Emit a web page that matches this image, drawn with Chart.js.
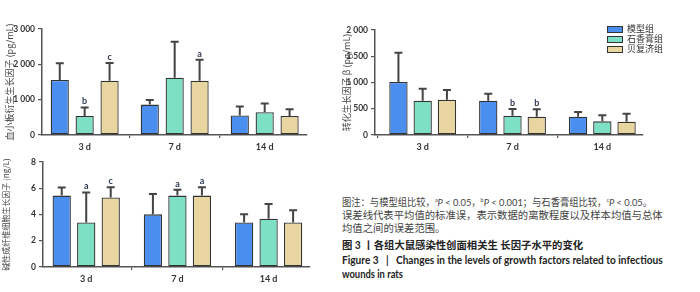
<!DOCTYPE html>
<html><head><meta charset="utf-8">
<script src="https://cdn.jsdelivr.net/npm/chart.js@4.4.1/dist/chart.umd.min.js"></script>
<style>
html,body{margin:0;padding:0;background:#fff;}
#wrap{position:relative;width:700px;height:292px;overflow:hidden;background:#fff;}
canvas{position:absolute;}
#leg{position:absolute;left:607px;top:24px;font-family:"Noto Sans CJK SC";font-size:9px;color:#333;}
.lr{height:10px;line-height:10px;display:flex;align-items:center;white-space:nowrap;}
.lb{width:14px;height:5px;border:1px solid #333;margin-right:4px;}
.cap{position:absolute;left:342px;white-space:nowrap;font-family:"Lato","Noto Sans CJK SC";font-size:10.35px;color:#444;line-height:13px;transform-origin:0 50%;}
.cap sup{font-size:6px;vertical-align:4px;line-height:0;}
.b{font-weight:bold;color:#222;}
</style></head>
<body><div id="wrap">
<canvas id="c1" style="left:0;top:0" width="320" height="155"></canvas>
<canvas id="c2" style="left:330px;top:0" width="320" height="155"></canvas>
<canvas id="c3" style="left:0;top:142px" width="320" height="145"></canvas>
<div id="leg"></div>
<div class="cap" style="top:195.8px" data-w="310">图注：与模型组比较，<sup>a</sup><i>P</i> &lt; 0.05，<sup>b</sup><i>P</i> &lt; 0.001；与石香膏组比较，<sup>c</sup><i>P</i> &lt; 0.05。</div>
<div class="cap" style="top:209.2px" data-w="320.6">误差线代表平均值的标准误，表示数据的离散程度以及样本均值与总体</div>
<div class="cap" style="top:221.8px">均值之间的误差范围。</div>
<div class="cap b" style="top:239.2px">图 3 丨各组大鼠感染性创面相关生 长因子水平的变化</div>
<div class="cap b" style="top:253.8px" data-w="320.6">Figure 3&nbsp;&nbsp;&nbsp;|&nbsp;&nbsp;&nbsp;Changes in the levels of growth factors related to infectious</div>
<div class="cap b" style="top:267.8px" data-w="61">wounds in rats</div>
</div>
<script>
// ---- data ----
const categories = ['3 d', '7 d', '14 d'];
const groups = ['模型组', '石香膏组', '贝复济组'];
const colors = ['#4a8ff0', '#7ddfc3', '#e9d5a0'];

// 血小板衍生生长因子 (pg/mL)
const pdgfModel = [1560, 860, 550];
const pdgfModelSem = [474, 133, 255];
const pdgfShixiang = [540, 1620, 645];
const pdgfShixiangSem = [236, 1022, 245];
const pdgfBeifu = [1535, 1535, 540];
const pdgfBeifuSem = [502, 596, 190];
const pdgfSig = [['', '', ''], ['b', '', ''], ['c', 'a', '']];
const pdgfTicks = [0, 1000, 2000, 3000];

// 转化生长因子 β (pg/mL)
const tgfModel = [1010, 653, 349];
const tgfModelSem = [558, 134, 89];
const tgfShixiang = [653, 368, 260];
const tgfShixiangSem = [229, 127, 115];
const tgfBeifu = [672, 349, 254];
const tgfBeifuSem = [185, 140, 152];
const tgfSig = [['', '', ''], ['', 'b', ''], ['', 'b', '']];
const tgfTicks = [0, 500, 1000, 1500, 2000];

// 碱性成纤维细胞生长因子 (ng/L)
const fgfModel = [5.44, 4.01, 3.40];
const fgfModelSem = [0.61, 1.56, 0.61];
const fgfShixiang = [3.40, 5.44, 3.68];
const fgfShixiangSem = [2.27, 0.44, 1.12];
const fgfBeifu = [5.29, 5.44, 3.40];
const fgfBeifuSem = [0.79, 0.64, 0.92];
const fgfSig = [['', '', ''], ['a', 'a', ''], ['c', 'a', '']];
const fgfTicks = [0, 2, 4, 6, 8];

// ---- legend ----
const leg = document.getElementById('leg');
groups.forEach((g, i) => {
  const r = document.createElement('div'); r.className = 'lr';
  const b = document.createElement('div'); b.className = 'lb'; b.style.background = colors[i];
  const t = document.createElement('span'); t.textContent = g;
  r.appendChild(b); r.appendChild(t); leg.appendChild(r);
});

const errPlugin = {
  id: 'err',
  afterDatasetsDraw(chart) {
    const ctx = chart.ctx, y = chart.scales.y;
    chart.data.datasets.forEach((ds, di) => {
      const meta = chart.getDatasetMeta(di);
      meta.data.forEach((bar, i) => {
        const top = y.getPixelForValue(ds.data[i].y + ds.sem[i]);
        ctx.save();
        ctx.strokeStyle = '#444'; ctx.lineWidth = 2;
        ctx.beginPath();
        ctx.moveTo(bar.x, bar.y); ctx.lineTo(bar.x, top);
        ctx.moveTo(bar.x - 4, top); ctx.lineTo(bar.x + 4, top);
        ctx.stroke();
        if (ds.sig[i]) {
          ctx.fillStyle = '#2f3b52'; ctx.font = 'bold 9px Lato';
          ctx.textAlign = 'center'; ctx.textBaseline = 'bottom';
          ctx.fillText(ds.sig[i], bar.x, top - 1.5);
        }
        ctx.restore();
      });
    });
  }
};

function fmt(v) { return v >= 1000 ? String(v).replace(/\B(?=(\d{3})+(?!\d))/g, ' ') : String(v); }

function makeChart(id, c) {
  const datasets = groups.map((g, gi) => ({
    label: g,
    data: c.means[gi].map((v, i) => ({ x: i, y: v })),
    sem: c.sems[gi],
    sig: c.sig[gi],
    backgroundColor: colors[gi],
    borderColor: '#333', borderWidth: 1.3, borderSkipped: false,
    categoryPercentage: c.cp, barPercentage: c.bp
  }));
  const tickFont = { family: 'Lato', size: 8.5, weight: 'bold' };
  return new Chart(document.getElementById(id), {
    type: 'bar',
    data: { datasets },
    options: {
      responsive: false, animation: false, devicePixelRatio: 1,
      layout: { padding: { top: c.padTop, right: c.padRight, left: 0, bottom: 0 } },
      plugins: { legend: { display: false }, tooltip: { enabled: false } },
      scales: {
        x: {
          type: 'linear', min: c.xmin, max: c.xmax, offset: false,
          grid: { display: true, drawOnChartArea: false, tickLength: 3, color: '#555', lineWidth: 1.2 },
          border: { display: true, color: '#555', width: 1.5 },
          ticks: { stepSize: 1, includeBounds: false, autoSkip: false, maxRotation: 0, padding: 3.5,
            color: '#333', font: { family: 'Lato', size: 9, weight: 'bold' },
            callback: v => Number.isInteger(v) ? categories[v] : '' },
          afterFit: s => { s.height = 20; }
        },
        y: {
          min: 0, max: c.ticks[c.ticks.length - 1],
          afterBuildTicks: s => { s.ticks = c.ticks.map(v => ({ value: v })); },
          grid: { drawOnChartArea: false, tickLength: 4, color: '#555', lineWidth: 1.2 },
          border: { display: true, color: '#555', width: 1.5 },
          ticks: { padding: 3, color: '#333', font: tickFont, callback: v => fmt(v) },
          title: { display: true, text: c.title, color: '#444',
            font: { family: 'Noto Sans CJK SC', size: c.titleSize },
            padding: { top: c.titlePad, bottom: 0 } },
          afterFit: s => { s.width = c.yW; }
        }
      }
    },
    plugins: [errPlugin]
  });
}

makeChart('c1', {
  means: [pdgfModel, pdgfShixiang, pdgfBeifu],
  sems: [pdgfModelSem, pdgfShixiangSem, pdgfBeifuSem],
  sig: pdgfSig, ticks: pdgfTicks,
  title: '血小板衍生生长因子 (pg/mL)', titleSize: 9, titlePad: 4,
  yW: 42, padTop: 29, padRight: 13, xmin: -0.474, xmax: 2.47, cp: 0.83, bp: 0.73
});
makeChart('c2', {
  means: [tgfModel, tgfShixiang, tgfBeifu],
  sems: [tgfModelSem, tgfShixiangSem, tgfBeifuSem],
  sig: tgfSig, ticks: tgfTicks,
  title: '转化生长因子 β (pg/mL)', titleSize: 9, titlePad: 11.6,
  yW: 45, padTop: 30, padRight: 7, xmin: -0.531, xmax: 2.453, cp: 0.81, bp: 0.756
});
makeChart('c3', {
  means: [fgfModel, fgfShixiang, fgfBeifu],
  sems: [fgfModelSem, fgfShixiangSem, fgfBeifuSem],
  sig: fgfSig, ticks: fgfTicks,
  title: '碱性成纤维细胞生长因子 (ng/L)', titleSize: 8, titlePad: 1.4,
  yW: 43, padTop: 20, padRight: 10, xmin: -0.474, xmax: 2.454, cp: 0.806, bp: 0.747
});

function fit() {
  document.querySelectorAll('.cap[data-w]').forEach(el => {
    el.style.transform = 'none';
    const w = el.getBoundingClientRect().width;
    const t = parseFloat(el.dataset.w);
    if (w > 0) el.style.transform = 'scaleX(' + (t / w) + ')';
  });
}
fit();
if (document.fonts && document.fonts.ready) document.fonts.ready.then(fit);
</script>
</body></html>
